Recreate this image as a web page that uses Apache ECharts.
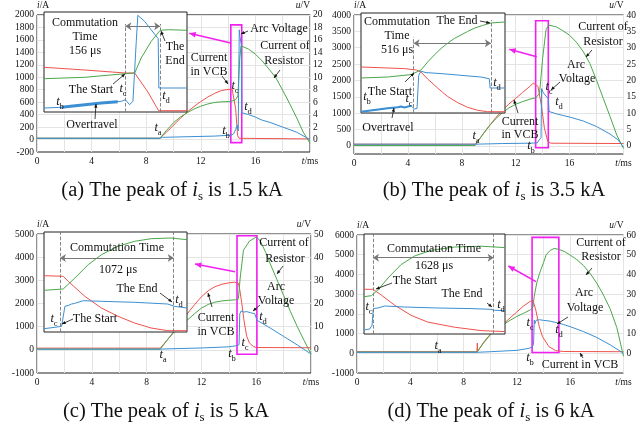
<!DOCTYPE html>
<html>
<head>
<meta charset="utf-8">
<title>VCB commutation waveforms</title>
<script src="https://cdn.jsdelivr.net/npm/echarts@6/dist/echarts.min.js"></script>
<style>html,body{margin:0;padding:0;background:#fff;}</style>
</head>
<body>
<div id="chart" style="width:639px;height:430px;"></div>
<script>
// main traces: [t (ms), i (A)] for the currents, [t (ms), u (V)] for the arc voltage
// insets: [time from inset start (us), relative level 0-100]

// (a) peak 1.5 kA
var aVcb = [[0,20],[9,20],[9.5,120],[10,230],[10.5,340],[11,440],[11.5,530],[12,610],[12.5,680],[13,740],[13.5,785],[14,805],[14.3,805],[14.4,780],[14.55,500],[14.7,60],[14.8,20],[20,10]];
var aRes = [[0,20],[9,20],[9.5,150],[10,270],[10.5,360],[11,430],[11.5,490],[12,535],[12.5,570],[13,595],[13.5,605],[14.2,610],[14.55,640],[14.72,700],[14.85,1300],[14.95,1505],[15.5,1450],[16,1370],[16.5,1260],[17,1130],[17.5,990],[18,790],[18.5,580],[19,360],[19.5,120],[20,-60]];
var aArc = [[0,0.2],[9,0.2],[9.2,0.35],[11,0.45],[13,0.55],[14.2,0.7],[14.4,0.9],[14.55,1.6],[14.68,2.3],[14.74,1.4],[14.78,10],[14.82,17.6],[14.87,16.5],[14.97,15.2],[15,4.3],[15.5,4],[16,3.6],[16.5,3.1],[17,2.8],[18,2],[19,1.2],[20,0]];
var aInVcb = [[0,44.7],[183,42],[364,39],[406,39],[465,20],[513,1.3],[640,1.3]];
var aInRes = [[0,33.3],[183,34.7],[364,38.3],[406,39],[435,54],[480,70.7],[520,81.7],[557,82.3],[640,81.7]];
var aInArc = [[0,4],[79,4.7],[183,7.3],[257,9],[346,10.7],[364,12.3],[383,7.3],[398,10.7],[413,70.7],[420,96.7],[450,90.7],[511,73.3],[514,24],[640,24]];
var aInOver = [[79,4.7],[130,6],[183,7.3],[257,9],[330,10.3]];
var aMarks = [364, 520];   // tc, td (us)

// (b) peak 3.5 kA
var bVcb = [[0,50],[9,50],[9.5,310],[10,590],[10.5,850],[11,1080],[11.5,1280],[12,1450],[12.5,1630],[13,1800],[13.3,1915],[13.65,1820],[13.9,1250],[14.13,540],[14.38,135],[14.6,80],[20,70]];
var bRes = [[0,10],[9,10],[9.5,320],[10,590],[10.5,820],[11,1010],[11.5,1160],[12,1270],[12.5,1350],[13,1420],[13.5,1470],[13.77,1610],[14,2680],[14.25,3550],[14.45,3690],[15,3640],[15.5,3520],[16,3380],[16.5,3170],[17,2890],[17.5,2520],[18,2000],[18.5,1450],[19,900],[19.5,330],[20,-80]];
var bArc = [[0,0.5],[9,0.5],[11,0.7],[13,0.8],[13.6,0.9],[13.75,1.8],[13.82,1.2],[13.88,2.5],[13.92,17.5],[14.05,16.2],[14.25,15.2],[14.42,14.5],[14.47,10.5],[15,9.8],[16,8.8],[17,7.6],[18,5.9],[19,3.6],[19.6,1.8],[20,-0.4]];
var bInVcb = [[0,46],[289,44.4],[370,43],[400,41],[445,34],[511,25],[578,16.5],[645,10.4],[711,5.7],[778,2.7],[845,1.3],[961,1.3]];
var bInRes = [[0,35],[178,36],[334,38.4],[400,43],[445,51],[489,58],[534,64.5],[578,69.7],[622,74.5],[667,78],[711,81.5],[756,84.8],[811,87.5],[867,90],[961,91]];
var bInArc = [[0,1.3],[89,3],[178,4.7],[245,5.7],[267,6.5],[290,5.5],[312,6.4],[334,7],[345,9],[356,4],[374,4.7],[385,37.7],[400,41.8],[434,40.4],[534,39.4],[667,37.7],[800,36],[856,34.3],[862,25],[961,25]];
var bInOver = [[0,1.3],[89,3],[178,4.7],[245,5.7],[267,6.5],[290,5.5],[312,6.4],[334,7]];
var bMarks = [351, 867];

// (c) peak 5 kA
var cVcb = [[0,73],[9,73],[9.5,420],[10,800],[10.5,1200],[11,1580],[11.5,1950],[12,2290],[12.5,2550],[13,2730],[13.5,2830],[14,2890],[14.4,2920],[14.7,2880],[14.8,2600],[14.95,2000],[15.1,1300],[15.3,600],[15.5,300],[15.8,140],[16,100],[20,90]];
var cRes = [[0,30],[9,30],[9.5,420],[10,760],[10.5,1020],[11,1300],[11.5,1560],[12,1800],[12.5,1960],[13,2060],[13.5,2110],[14,2140],[14.5,2160],[14.7,2200],[14.83,3100],[15.07,4300],[15.5,4690],[16,4870],[16.3,4700],[16.7,4200],[17,3750],[17.5,3050],[18,2350],[18.5,1650],[19,1000],[19.5,400],[20,-180]];
var cArc = [[0,0.3],[9,0.3],[10,0.5],[12,0.8],[14,1.3],[14.6,1.8],[14.75,2.3],[14.8,15.5],[14.9,16.8],[15.1,16.3],[15.3,16.5],[15.6,16],[15.9,15.6],[16.05,12.8],[17,9.5],[18,5.8],[19,2.1],[20,-1.8]];
var cInVcb = [[0,56.3],[181,55.7],[228,50.7],[384,35.7],[541,24],[697,15.7],[853,9],[1009,4],[1166,1.3],[1347,1.3]];
var cInRes = [[0,41.7],[181,43],[291,54],[416,67.3],[541,77.3],[697,85.7],[853,90.7],[1009,93.3],[1197,94],[1347,92.3]];
var cInArc = [[0,3.3],[103,4.7],[166,5.7],[181,7.3],[197,25.7],[213,27.3],[235,26.8],[259,28],[285,28.5],[300,29.5],[369,31.3],[541,30.7],[853,29.7],[1166,28],[1228,25.7],[1347,24]];
var cMarks = [150, 1222];

// (d) peak 6 kA
var dVcb = [[0,80],[9,80],[9.03,520],[9.06,100],[9.5,560],[10,960],[10.5,1240],[11,1500],[11.5,1800],[12,2100],[12.5,2400],[13,2630],[13.2,2690],[13.4,2250],[13.68,1350],[13.92,845],[14.4,340],[14.9,135],[15.5,90],[20,80]];
var dRes = [[0,60],[9,60],[9.5,520],[10,940],[10.5,1200],[11,1460],[11.5,1680],[12,1870],[12.5,2030],[13,2200],[13.2,2320],[13.3,2900],[13.5,3600],[13.7,4060],[14,4600],[14.2,5000],[14.5,5220],[14.8,5320],[15.2,5260],[15.6,5150],[16,4980],[16.5,4750],[17,4450],[17.5,4050],[18,3550],[18.5,2950],[19,2250],[19.5,1300],[20,-150]];
var dArc = [[0,0.5],[9,0.5],[10,0.8],[12,1.5],[12.9,2.5],[13.15,3.2],[13.25,4.5],[13.3,16.8],[13.35,15],[13.45,16.8],[13.7,17],[14,16.7],[14.5,16.3],[15,15.5],[15.5,14.6],[16,13.5],[17,11],[18,8],[19,4.3],[20,0]];
var dInVcb = [[0,44.7],[121,44.7],[233,39],[413,28.8],[637,18.6],[861,11.9],[1220,6.8],[1579,3.4],[1902,2.4]];
var dInRes = [[0,37.3],[99,38.3],[188,44],[323,56],[502,69.5],[682,78],[906,83.7],[1220,87],[1579,87.8],[1902,86.4]];
var dInArc = [[0,4],[76,5],[108,8.5],[126,25.4],[144,27.1],[188,26],[278,28],[547,27],[996,26],[1444,25.4],[1713,24.7],[1758,23.7],[1902,23.4]];
var dMarks = [121, 1749];

var captions = ['(a) The peak of {i|i}{s|s} is 1.5 kA', '(b) The peak of {i|i}{s|s} is 3.5 kA',
                '(c) The peak of {i|i}{s|s} is 5 kA', '(d) The peak of {i|i}{s|s} is 6 kA'];

var FONT = '"Liberation Serif","Times New Roman",serif';
var RED = '#f0524c', GREEN = '#4aa84a', BLUE = '#3c8fd2', MAG = '#f21ff2', GRIDC = '#e4e4e4';

function T(s) { return '{t|t}{s|' + s + '}'; }

var panels = [
  {main: {left: 37, top: 14, width: 273, height: 138}, inset: {left: 44, top: 12, width: 143, height: 100},
   y: [-200, 2000, 200, 200], r: [-2, 20, 2, 2], insetMax: 640, arrowY: 85.7, dashTop: [88, 88],
   box: [[14.2, 1840], [15.0, -50]], overW: 3,
   vcb: aVcb, res: aRes, arc: aArc, inVcb: aInVcb, inRes: aInRes, inArc: aInArc, inOver: aInOver, marks: aMarks,
   cap: [172, 191], mag: [230.7, 43, 189.3, 33.3],
   notes: [['Commutation', 85, 23], ['Time', 85, 37], ['156 μs', 85, 51], ['The', 175, 47], ['End', 175, 61],
           ['The Start', 91, 90], [T('c'), 123, 89], [T('b'), 60, 102], [T('d'), 166, 96], ['Overtravel', 92, 125],
           [T('a'), 158, 128], ['Current', 209, 58], ['in VCB', 209, 72], [T('c'), 235, 86], [T('d'), 248, 107],
           [T('b'), 226, 131], ['Arc Voltage', 279, 29], ['Current of', 285, 46], ['Resistor', 284, 61]],
   arrows: [[165, 41, 161, 31], [113, 84, 125, 74], [95, 119, 96, 104], [222, 76, 228, 84], [248, 31, 241, 34], [280, 70, 274, 78]]},
  {main: {left: 354, top: 15, width: 276, height: 139}, inset: {left: 361, top: 13, width: 144, height: 100},
   y: [-250, 4000, 250, 500], r: [-2.5, 40, 2.5, 5], insetMax: 961, arrowY: 69.7, dashTop: [76, 93],
   box: [[13.48, 3825], [14.42, -60]], overW: 2,
   vcb: bVcb, res: bRes, arc: bArc, inVcb: bInVcb, inRes: bInRes, inArc: bInArc, inOver: bInOver, marks: bMarks,
   cap: [494, 191], mag: [536.7, 56.7, 509.3, 49.3],
   notes: [['Commutation', 397, 22], ['Time', 397, 36], ['516 μs', 397, 50], ['The End', 457, 21],
           ['The Start', 390, 92], [T('c'), 409, 99], [T('b'), 367, 97], [T('d'), 497, 83], ['Overtravel', 388, 128],
           [T('a'), 476, 136], ['Current', 520, 122], ['in VCB', 520, 135], [T('b'), 531, 146], [T('c'), 549, 87],
           [T('d'), 559, 102], ['Arc', 576, 65], ['Voltage', 577, 79], ['Current of', 603, 27], ['Resistor', 603, 42]],
   arrows: [[480, 21, 490, 23], [405, 82, 414, 73], [392, 118, 394, 108], [518, 113, 514, 100], [560, 82, 551, 90], [592, 50, 586, 57]]},
  {main: {left: 37, top: 234, width: 274, height: 139}, inset: {left: 44, top: 232, width: 143, height: 100},
   y: [-1000, 5000, 1000, 1000], r: [-10, 50, 10, 10], insetMax: 1347, arrowY: 74, dashTop: [100, 100],
   box: [[14.6, 4925], [16.05, -190]], overW: 0,
   vcb: cVcb, res: cRes, arc: cArc, inVcb: cInVcb, inRes: cInRes, inArc: cInArc, inOver: null, marks: cMarks,
   cap: [166, 412], mag: [235, 271.7, 195, 264],
   notes: [['Commutation Time', 117, 248], ['1072 μs', 118, 270], ['The End', 137, 289], [T('d'), 179, 300],
           [T('c'), 54, 319], ['The Start', 95, 319], [T('a'), 163, 355], ['Current', 216, 318], ['in VCB', 216, 332],
           [T('b'), 232, 354], [T('c'), 245, 343], ['Arc', 276, 287], ['Voltage', 276, 301], [T('d'), 263, 317],
           ['Current of', 284, 243], ['Resistor', 285, 259]],
   arrows: [[160, 293, 172, 302], [73, 319, 62, 324], [212, 307, 208, 293], [260, 305, 253, 311], [283, 266, 277, 274]]},
  {main: {left: 357, top: 235, width: 272, height: 138}, inset: {left: 364, top: 234, width: 141, height: 100},
   y: [-1000, 6000, 1000, 1000], r: [-10, 60, 10, 10], insetMax: 1902, arrowY: 76.3, dashTop: [100, 100],
   box: [[13.14, 5880], [15.15, 40]], overW: 0,
   vcb: dVcb, res: dRes, arc: dArc, inVcb: dInVcb, inRes: dInRes, inArc: dInArc, inOver: null, marks: dMarks,
   cap: [491, 412], mag: [536, 281.7, 508.3, 266],
   notes: [['Commutation Time', 434, 249], ['1628 μs', 434, 266], ['The Start', 415, 281], [T('c'), 369, 307],
           ['The End', 462, 294], [T('d'), 501, 305], [T('a'), 438, 346], [T('c'), 530, 323], [T('b'), 530, 358],
           [T('d'), 559, 330], ['Arc', 584, 293], ['Voltage', 585, 308], ['Current of', 601, 243], ['Resistor', 601, 257],
           ['Current in VCB', 580, 365]],
   arrows: [[392, 283, 376, 289], [487, 303, 492, 307], [568, 317, 557, 324], [592, 268, 586, 275], [583, 358, 580, 353]]}
];

var RICH = {
  t: {fontFamily: FONT, fontSize: 12.5, fontStyle: 'italic'},
  s: {fontFamily: FONT, fontSize: 8.5, padding: [9, 0, 0, 0]}
};
var CAP_RICH = {
  i: {fontFamily: FONT, fontSize: 20.5, fontStyle: 'italic'},
  s: {fontFamily: FONT, fontSize: 13, padding: [12, 0, 0, 0]}
};
var AX_RICH = {it: {fontFamily: FONT, fontSize: 9.5, fontStyle: 'italic'}};

function isStep(v, step) { var q = v / step; return Math.abs(q - Math.round(q)) < 1e-6; }

function text(x, y, s, size, rich) {
  return {type: 'text', x: x, y: y, z: 20, silent: true,
    style: {text: s, fontFamily: FONT, fontSize: size, fill: '#111', align: 'center', verticalAlign: 'middle', rich: rich}};
}
function arrow(a, color, w, h) {
  var ang = Math.atan2(a[3] - a[1], a[2] - a[0]), s = 0.42;
  return [
    {type: 'line', z: 20, silent: true, shape: {x1: a[0], y1: a[1], x2: a[2], y2: a[3]}, style: {stroke: color, lineWidth: w}},
    {type: 'polygon', z: 20, silent: true, shape: {points: [[a[2], a[3]],
      [a[2] - h * Math.cos(ang - s), a[3] - h * Math.sin(ang - s)],
      [a[2] - h * Math.cos(ang + s), a[3] - h * Math.sin(ang + s)]]}, style: {fill: color}}
  ];
}

var grid = [], xAxis = [], yAxis = [], series = [], elements = [];

panels.forEach(function (p, k) {
  var gm = 2 * k, gi = 2 * k + 1;
  grid.push(Object.assign({show: true, borderColor: '#222', borderWidth: 1}, p.main));
  grid.push(Object.assign({show: false}, p.inset));

  xAxis.push({type: 'value', gridIndex: gm, min: 0, max: 20, interval: 2,
    axisLine: {show: false}, axisTick: {show: false},
    splitLine: {show: true, lineStyle: {color: GRIDC, width: 1}},
    axisLabel: {fontFamily: FONT, fontSize: 9.5, color: '#111', margin: 4, showMaxLabel: true, showMinLabel: true, rich: AX_RICH,
      formatter: function (v) { if (v === 20) return '{it|t}/ms'; return v % 4 === 0 ? String(v) : ''; }}});
  xAxis.push({type: 'value', gridIndex: gi, min: 0, max: p.insetMax, show: false});

  var yShow = p.y[3], rShow = p.r[3];
  yAxis.push({type: 'value', gridIndex: gm, position: 'left', min: p.y[0], max: p.y[1], interval: p.y[2],
    name: '{it|i}/A', nameLocation: 'end', nameGap: 3,
    nameTextStyle: {fontFamily: FONT, fontSize: 9.5, color: '#111', align: 'left', rich: AX_RICH},
    axisLine: {show: false}, axisTick: {show: false},
    splitLine: {show: true, showMinLine: false, lineStyle: {color: yShow === p.y[2] ? GRIDC : [GRIDC, 'rgba(0,0,0,0)']}},
    axisLabel: {fontFamily: FONT, fontSize: 9.5, color: '#111', margin: 3,
      formatter: function (v) { return (isStep(v, yShow) && v >= p.y[0] && !(yShow !== p.y[2] && v < 0)) ? String(v) : ''; }}});
  yAxis.push({type: 'value', gridIndex: gm, position: 'right', min: p.r[0], max: p.r[1], interval: p.r[2],
    name: '{it|u}/V', nameLocation: 'end', nameGap: 3,
    nameTextStyle: {fontFamily: FONT, fontSize: 9.5, color: '#111', align: 'right', rich: AX_RICH},
    axisLine: {show: false}, axisTick: {show: false}, splitLine: {show: false},
    axisLabel: {fontFamily: FONT, fontSize: 9.5, color: '#111', margin: 3,
      formatter: function (v) { return (v >= 0 && isStep(v, rShow)) ? String(v) : ''; }}});
  yAxis.push({type: 'value', gridIndex: gi, min: 0, max: 100, show: false});

  function line(data, xi, yi, color, w, z) {
    return {type: 'line', xAxisIndex: xi, yAxisIndex: yi, data: data, showSymbol: false, silent: true, z: z,
      lineStyle: {color: color, width: w}, itemStyle: {color: color}};
  }
  series.push(line(p.vcb, gm, 3 * k, RED, 1, 2));
  var res = line(p.res, gm, 3 * k, GREEN, 1, 2);
  res.markArea = {silent: true, itemStyle: {color: 'rgba(0,0,0,0)', borderColor: MAG, borderWidth: 1.6},
    data: [[{coord: p.box[0]}, {coord: p.box[1]}]]};
  series.push(res);
  series.push(line(p.arc, gm, 3 * k + 1, BLUE, 1, 2));

  var inV = line(p.inVcb, gi, 3 * k + 2, RED, 1, 4);
  var tc = p.marks[0], td = p.marks[1];
  var dash = {type: 'dashed', color: '#777', width: 0.9};
  inV.markLine = {silent: true, symbol: ['none', 'none'], symbolSize: 6, label: {show: false}, animation: false,
    data: [
      [{coord: [tc, 0], lineStyle: dash}, {coord: [tc, p.dashTop[0]]}],
      [{coord: [td, 0], lineStyle: dash}, {coord: [td, p.dashTop[1]]}],
      [{coord: [tc, p.arrowY], symbol: 'arrow', lineStyle: {type: 'solid', color: '#777', width: 1}},
       {coord: [td, p.arrowY], symbol: 'arrow'}]
    ]};
  series.push(inV);
  series.push(line(p.inRes, gi, 3 * k + 2, GREEN, 1, 4));
  series.push(line(p.inArc, gi, 3 * k + 2, BLUE, 1, 4));
  if (p.inOver) series.push(line(p.inOver, gi, 3 * k + 2, BLUE, p.overW, 4));

  elements.push({type: 'rect', z: 3, silent: true,
    shape: {x: p.inset.left, y: p.inset.top, width: p.inset.width, height: p.inset.height},
    style: {fill: '#fff', stroke: '#222', lineWidth: 1}});
  p.notes.forEach(function (n) { elements.push(text(n[1], n[2], n[0], 12, RICH)); });
  p.arrows.forEach(function (a) { elements.push.apply(elements, arrow(a, '#111', 0.8, 4)); });
  elements.push.apply(elements, arrow(p.mag, MAG, 1.5, 7));
  elements.push(text(p.cap[0], p.cap[1], captions[k], 20.5, CAP_RICH));
});

var chart = echarts.init(document.getElementById('chart'), null, {renderer: 'canvas'});
chart.setOption({
  animation: false,
  backgroundColor: '#fff',
  grid: grid, xAxis: xAxis, yAxis: yAxis, series: series,
  graphic: {elements: elements}
});
</script>
</body>
</html>
